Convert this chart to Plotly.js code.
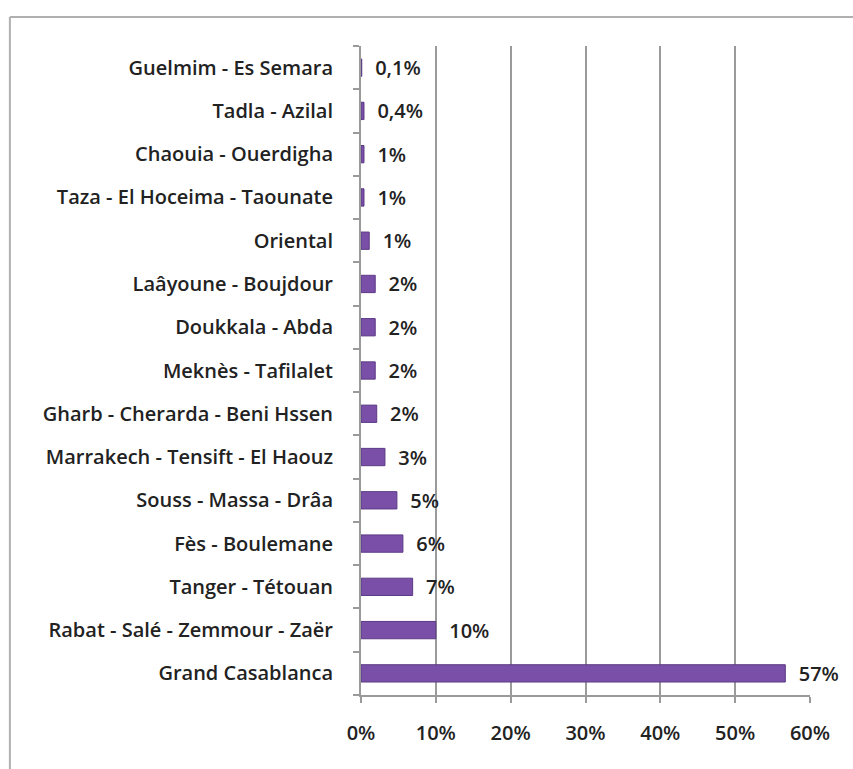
<!DOCTYPE html>
<html>
<head>
<meta charset="utf-8">
<script src="https://cdn.plot.ly/plotly-3.0.1.min.js"></script>
<style>
html,body{margin:0;padding:0;background:#fff;}
#chart{width:853px;height:769px;}
</style>
</head>
<body>
<div id="chart"></div>
<script>
// Categories (bottom to top)
const regions = [
  "Grand Casablanca",
  "Rabat - Salé - Zemmour - Zaër",
  "Tanger - Tétouan",
  "Fès - Boulemane",
  "Souss - Massa - Drâa",
  "Marrakech - Tensift - El Haouz",
  "Gharb - Cherarda - Beni Hssen",
  "Meknès - Tafilalet",
  "Doukkala - Abda",
  "Laâyoune - Boujdour",
  "Oriental",
  "Taza - El Hoceima - Taounate",
  "Chaouia - Ouerdigha",
  "Tadla - Azilal",
  "Guelmim - Es Semara"
];
const shares = [56.7, 10.0, 6.9, 5.6, 4.8, 3.2, 2.1, 1.9, 1.9, 1.9, 1.1, 0.4, 0.4, 0.4, 0.1];
const shareLabels = ["57%", "10%", "7%", "6%", "5%", "3%", "2%", "2%", "2%", "2%", "1%", "1%", "1%", "0,4%", "0,1%"];
const xTickVals = [0, 10, 20, 30, 40, 50, 60];
const xTickText = ["0%", "10%", "20%", "30%", "40%", "50%", "60%"];

const fontFam = "'Open Sans', Lato, sans-serif";
const pad = "\u00a0\u00a0";

const trace = {
  type: "bar",
  orientation: "h",
  y: regions,
  x: shares,
  text: shareLabels.map(s => pad + s),
  textposition: "outside",
  constraintext: "none",
  cliponaxis: false,
  textfont: {family: fontFam, size: 20, color: "#222", weight: 600},
  marker: {color: "#7a4fa8", line: {color: "#5b3a85", width: 1}},
  hoverinfo: "skip"
};

const layout = {
  width: 853,
  height: 769,
  margin: {l: 361, r: 43, t: 46, b: 74},
  paper_bgcolor: "#fff",
  plot_bgcolor: "#fff",
  showlegend: false,
  bargap: 0.6,
  font: {family: fontFam, size: 20, color: "#222"},
  xaxis: {
    range: [0, 60],
    tickvals: xTickVals,
    ticktext: xTickText,
    showgrid: true,
    gridcolor: "#9a9a9a",
    gridwidth: 2,
    zeroline: false,
    showline: true,
    linecolor: "#9a9a9a",
    linewidth: 2,
    ticks: "outside",
    ticklen: 6,
    tickcolor: "#9a9a9a",
    tickwidth: 2,
    ticklabelstandoff: 13,
    tickfont: {family: fontFam, size: 20, color: "#222", weight: 600},
    fixedrange: true
  },
  yaxis: {
    type: "category",
    categoryorder: "array",
    categoryarray: regions,
    range: [-0.5, 14.5],
    showgrid: false,
    zeroline: false,
    showline: true,
    linecolor: "#9a9a9a",
    linewidth: 2,
    ticks: "outside",
    tickson: "boundaries",
    ticklen: 6,
    tickcolor: "#9a9a9a",
    tickwidth: 2,
    ticklabelstandoff: 22,
    tickfont: {family: fontFam, size: 20, color: "#222", weight: 600},
    fixedrange: true
  },
  shapes: [
    {type: "line", xref: "paper", yref: "paper", x0: -0.782, x1: 1.2, y0: 1.0445, y1: 1.0445,
     line: {color: "#b0b0b0", width: 2}},
    {type: "line", xref: "paper", yref: "paper", x0: -0.782, x1: -0.782, y0: 1.0445, y1: -0.2,
     line: {color: "#b0b0b0", width: 2}}
  ]
};

Plotly.newPlot("chart", [trace], layout, {displayModeBar: false, staticPlot: true});
</script>
</body>
</html>
